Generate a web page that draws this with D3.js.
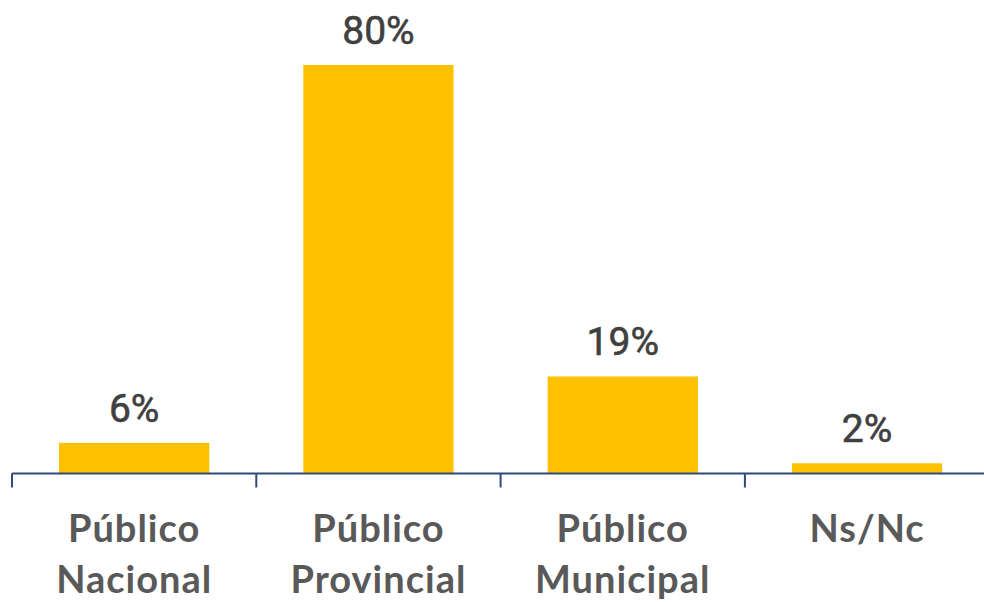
<!DOCTYPE html>
<html>
<head>
<meta charset="utf-8">
<script src="https://cdn.jsdelivr.net/npm/d3@7"></script>
<style>
body { margin: 0; background: #fff; }
</style>
</head>
<body>
<div id="chart"></div>
<script>
var categories = [["Público", "Nacional"], ["Público", "Provincial"], ["Público", "Municipal"], ["Ns/Nc"]];
var values = [6, 80, 19, 2];
var valueLabels = ["6%", "80%", "19%", "2%"];

var w = 984, h = 602;
var baseY = 473.5;

var svg = d3.select("#chart").append("svg")
  .attr("width", w).attr("height", h);

var x = d3.scaleBand()
  .domain(d3.range(values.length))
  .range([12, 12 + 244.3 * 4])
  .paddingInner(0.385)
  .paddingOuter(0.1925);

var y = d3.scaleLinear().domain([0, 80]).range([baseY, 65]);

svg.selectAll("rect.bar")
  .data(values)
  .enter()
  .append("rect")
  .attr("class", "bar")
  .attr("x", function(d, i) { return x(i); })
  .attr("y", function(d) { return y(d); })
  .attr("width", x.bandwidth())
  .attr("height", function(d) { return baseY - y(d); })
  .attr("fill", "#FFC000");

// value labels
svg.selectAll("text.val")
  .data(values)
  .enter()
  .append("text")
  .attr("class", "val")
  .attr("x", function(d, i) { return x(i) + x.bandwidth() / 2; })
  .attr("y", function(d) { return y(d) - 21; })
  .attr("text-anchor", "middle")
  .attr("font-family", "Roboto")
  .attr("font-size", 39)
  .attr("fill", "#404040")
  .attr("stroke", "#404040")
  .attr("stroke-width", 0.6)
  .text(function(d, i) { return valueLabels[i]; });

// axis line and ticks at category boundaries
var step = x.step();
svg.append("line")
  .attr("x1", 12).attr("x2", w)
  .attr("y1", baseY).attr("y2", baseY)
  .attr("stroke", "#2F4A7A").attr("stroke-width", 2);

svg.selectAll("line.tick")
  .data(d3.range(values.length + 1))
  .enter()
  .append("line")
  .attr("class", "tick")
  .attr("x1", function(d) { return 12 + d * step; })
  .attr("x2", function(d) { return 12 + d * step; })
  .attr("y1", baseY).attr("y2", baseY + 14)
  .attr("stroke", "#2F4A7A").attr("stroke-width", 2);

// category labels
var cat = svg.selectAll("text.cat")
  .data(categories)
  .enter()
  .append("text")
  .attr("class", "cat")
  .attr("text-anchor", "middle")
  .attr("font-family", "Lato")
  .attr("font-weight", "bold")
  .attr("font-size", 38)
  .attr("letter-spacing", 1)
  .attr("fill", "#595959");

cat.selectAll("tspan")
  .data(function(d, i) { return d.map(function(s) { return {s: s, i: i}; }); })
  .enter()
  .append("tspan")
  .attr("x", function(d) { return x(d.i) + x.bandwidth() / 2; })
  .attr("y", function(d, j) { return 542 + j * 51; })
  .text(function(d) { return d.s; });
</script>
</body>
</html>
